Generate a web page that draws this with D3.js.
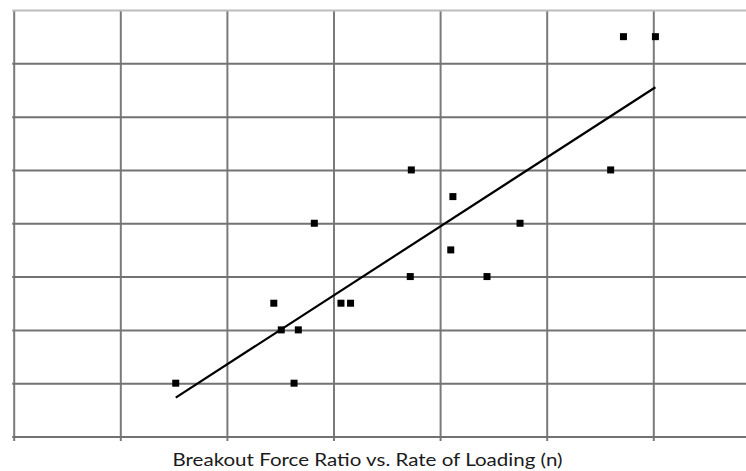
<!DOCTYPE html>
<html>
<head>
<meta charset="utf-8">
<script src="https://cdn.jsdelivr.net/npm/d3@7/dist/d3.min.js"></script>
<style>
  html, body { margin: 0; padding: 0; background: #fff; }
  svg { display: block; }
</style>
</head>
<body>
<svg id="chart" width="746" height="471"></svg>
<script>
// Rate of loading (n) and the matching breakout force ratio for each test
const rate  = [1.52, 2.44, 2.51, 2.67, 2.63, 2.82, 3.07, 3.16, 3.72, 3.73, 4.10, 4.12, 4.44, 4.75, 5.60, 5.72, 6.02];
const ratio = [1.0,  2.5,  2.0,  2.0,  1.0,  4.0,  2.5,  2.5,  3.0,  5.0,  3.5,  4.5,  3.0,  4.0,  5.0,  7.5,  7.5];

const xTicks = [0, 1, 2, 3, 4, 5, 6, 7];
const yTicks = [0, 1, 2, 3, 4, 5, 6, 7, 8];
const title = "Breakout Force Ratio vs. Rate of Loading (n)";

const svg = d3.select("#chart");
const W = 746, H = 471;

const x = d3.scaleLinear().domain([0, 7]).range([13.7, 13.7 + 7 * 106.6]);
const y = d3.scaleLinear().domain([0, 8]).range([436.5, 10]);

const plotH = y(0) - y(8);
const plotRight = W + 20;

// vertical gridlines, extending a little below the base line as tick marks
const gx = svg.append("g")
  .attr("transform", `translate(0,${y(0)})`)
  .call(d3.axisBottom(x).tickValues(xTicks).tickSize(-plotH).tickFormat(""));
gx.select(".domain").remove();
gx.selectAll(".tick line")
  .attr("y1", 4.5)
  .attr("stroke", "#7a7a7a")
  .attr("stroke-width", 2);

// horizontal gridlines
const gy = svg.append("g")
  .attr("transform", `translate(${x(0)},0)`)
  .call(d3.axisLeft(y).tickValues(yTicks).tickSize(-(plotRight - x(0))).tickFormat(""));
gy.select(".domain").remove();
gy.selectAll(".tick line")
  .attr("x1", -1.5)
  .attr("stroke", d => d === 8 ? "#bdbdbd" : "#727272")
  .attr("stroke-width", 2);

// least-squares trend line across the measured range
const n = rate.length;
const mx = d3.mean(rate), my = d3.mean(ratio);
let sxy = 0, sxx = 0;
for (let i = 0; i < n; i++) {
  sxy += (rate[i] - mx) * (ratio[i] - my);
  sxx += (rate[i] - mx) * (rate[i] - mx);
}
const slope = sxy / sxx;
const intercept = my - slope * mx;
const [xmin, xmax] = d3.extent(rate);
const trend = [[xmin, intercept + slope * xmin], [xmax, intercept + slope * xmax]];

svg.append("path")
  .datum(trend)
  .attr("fill", "none")
  .attr("stroke", "#000")
  .attr("stroke-width", 2.2)
  .attr("d", d3.line().x(d => x(d[0])).y(d => y(d[1])));

// data markers
const s = 7;
svg.append("g")
  .selectAll("rect")
  .data(d3.range(n))
  .join("rect")
  .attr("x", i => x(rate[i]) - s / 2)
  .attr("y", i => y(ratio[i]) - s / 2)
  .attr("width", s)
  .attr("height", s)
  .attr("fill", "#000");

// caption under the chart
svg.append("text")
  .attr("x", 367.5)
  .attr("y", 466)
  .attr("text-anchor", "middle")
  .attr("font-family", "Lato, 'Open Sans', sans-serif")
  .attr("font-size", 18)
  .attr("fill", "#1a1a1a")
  .attr("textLength", 390)
  .attr("lengthAdjust", "spacingAndGlyphs")
  .text(title);
</script>
</body>
</html>
